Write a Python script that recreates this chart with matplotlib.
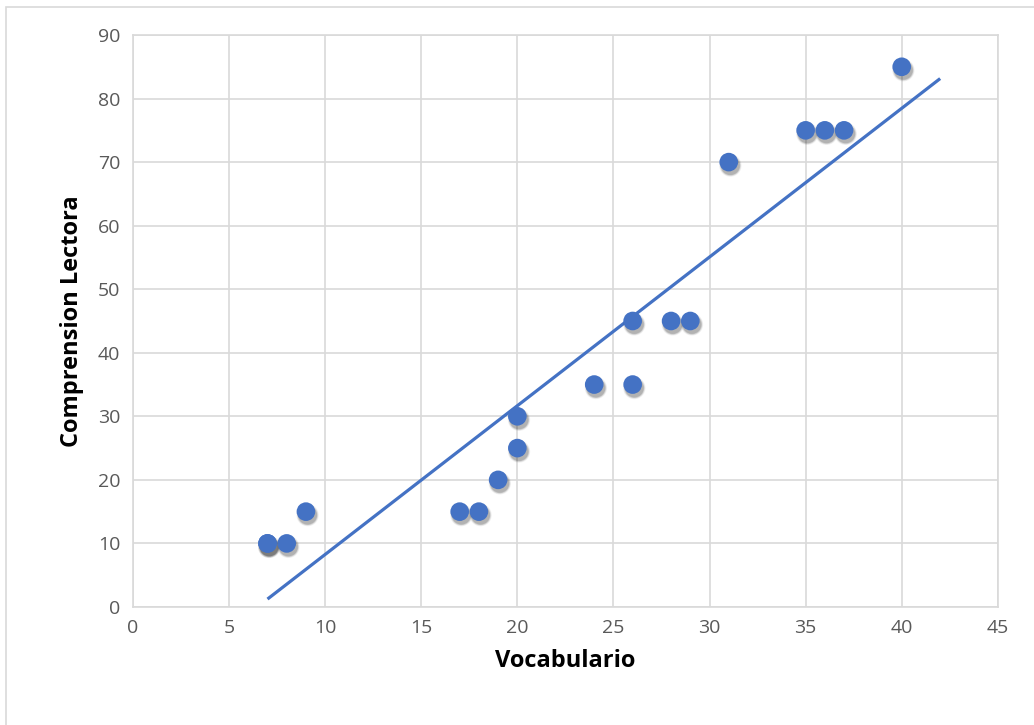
import numpy as np
import matplotlib
matplotlib.use("Agg")
import matplotlib.pyplot as plt
import matplotlib.transforms as mtrans
from matplotlib.patches import Rectangle

vocabulario = [7, 7, 8, 9, 17, 18, 19, 20, 20, 24, 26, 26, 28, 29, 31, 35, 36, 37, 40]
comprension = [10, 10, 10, 15, 15, 15, 20, 25, 30, 35, 35, 45, 45, 45, 70, 75, 75, 75, 85]
x_ticks = [0, 5, 10, 15, 20, 25, 30, 35, 40, 45]
y_ticks = [0, 10, 20, 30, 40, 50, 60, 70, 80, 90]
x_label = "Vocabulario"
y_label = "Comprension Lectora"

plt.rcParams['font.family'] = ['Open Sans', 'DejaVu Sans']

fig = plt.figure(figsize=(10.34, 7.25), dpi=100)
fig.patches.append(Rectangle((0.006, -0.01), 1.0, 1.0, transform=fig.transFigure,
                             fill=False, edgecolor='#d9d9d9', linewidth=1.2))
ax = fig.add_axes([0.1286, 0.1628, 0.8364, 0.7889])

blue = '#4472C4'
x = np.array(vocabulario, float)
y = np.array(comprension, float)
m, b = np.polyfit(x, y, 1)
xs = np.array([x.min(), x.max() + 2])
ax.plot(xs, m * xs + b, color=blue, linewidth=2.3, solid_capstyle='butt', zorder=3)

# soft shadow
for k, (sz, al) in enumerate([(260, 0.05), (230, 0.07), (205, 0.09), (185, 0.12)]):
    tr = mtrans.offset_copy(ax.transData, fig=fig, x=1.2, y=-2.5, units='points')
    ax.scatter(x, y, s=sz, color='black', alpha=al, edgecolors='none', zorder=3.5,
               transform=tr)
ax.scatter(x, y, s=180, color=blue, edgecolors='none', zorder=4)

ax.set_xlim(0, 45)
ax.set_ylim(0, 90)
ax.set_xticks(x_ticks)
ax.set_yticks(y_ticks)
ax.grid(True, color='#d9d9d9', linewidth=1.2)
ax.set_axisbelow(True)
for s in ax.spines.values():
    s.set_color('#d9d9d9')
    s.set_linewidth(1.2)
ax.tick_params(length=0, labelsize=14, labelcolor='#595959', pad=9)
ax.set_xlabel(x_label, fontsize=17, fontweight='bold', labelpad=8)
ax.set_ylabel(y_label, fontsize=17, fontweight='bold', labelpad=10)

fig.savefig("out.png", dpi=100)
